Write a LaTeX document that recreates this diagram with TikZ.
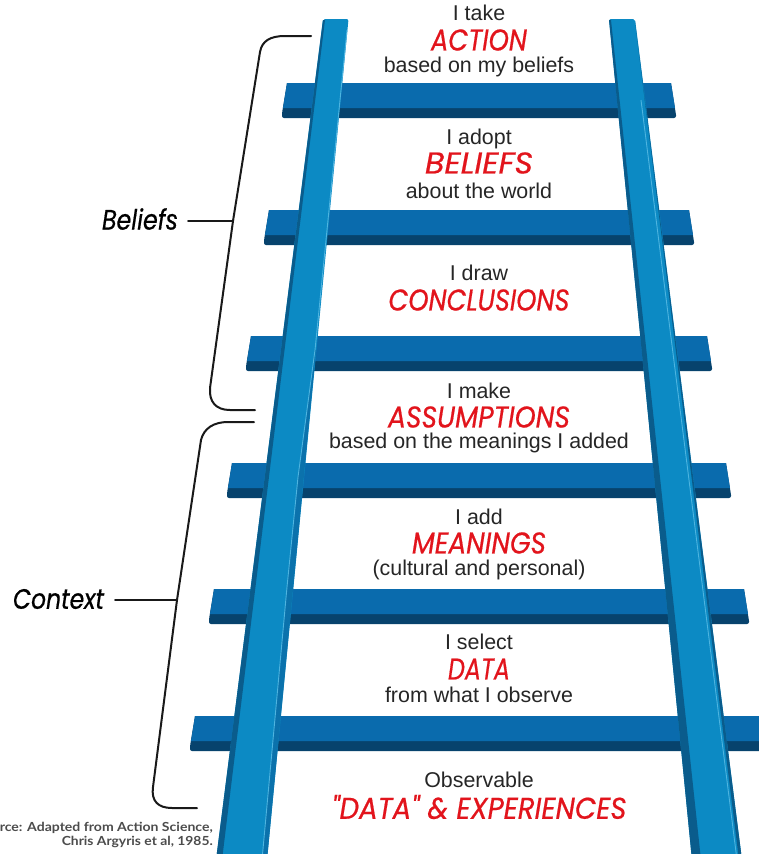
\documentclass[tikz,border=0pt]{standalone}
\usepackage{fontspec}
\setmainfont{Liberation Sans}
\newfontfamily\handfont{Poppins}[ItalicFeatures={FakeBold=0.6},UprightFeatures={FakeBold=0.6}]
\newfontfamily\sourcefont{Lato}
\definecolor{railmain}{HTML}{0C8AC4}
\definecolor{railshade}{HTML}{0B72AC}
\definecolor{raildark}{HTML}{0A5C8C}
\definecolor{raillight}{HTML}{4DB4E0}
\definecolor{rungfront}{HTML}{0A6BAD}
\definecolor{rungdark}{HTML}{07436D}
\definecolor{headred}{HTML}{E2141C}
\newcommand{\fitred}[2]{\resizebox{#1pt}{\height}{\fontsize{30}{30}\handfont\itshape\selectfont #2}}
\newcommand{\fithand}[2]{\resizebox{#1pt}{\height}{\fontsize{28}{28}\handfont\itshape\selectfont #2}}
\newcommand{\fitsource}[2]{\resizebox{#1pt}{\height}{\fontsize{12.5}{12.5}\sourcefont\bfseries\selectfont #2}}
\newcommand{\rungbar}[3]{%
  \fill[rungdark] ({#1+5},#3) -- ({#2-5},#3) -- (#2,{#3+32}) [rounded corners=2pt] -- (#2,{#3+35}) -- (#1,{#3+35}) -- (#1,{#3+30}) [sharp corners] -- cycle;
  \fill[rungfront] ({#1+5},#3) -- ({#2-5},#3) -- ({#2-1},{#3+25}) -- ({#1+1},{#3+25}) -- cycle;
}
\tikzset{
  x=1pt,y=-1pt,
  plainline/.style={font=\fontsize{21.4}{21.4}\selectfont,text=black!85,inner sep=0pt,text height=15.5pt,text depth=4.5pt,yshift=-1.5pt},
  redline/.style={text=headred,inner sep=0pt},
  handline/.style={text=black,inner ysep=0pt},
  bracket/.style={draw=black!90,line width=2pt,line cap=round,line join=round},
  sourceline/.style={text=black!70,inner sep=0pt,anchor=east}
}
\begin{document}
\begin{tikzpicture}
\useasboundingbox (0,0) rectangle (759,854);
\clip (0,0) rectangle (759,854);
\fill[white] (0,0) rectangle (759,854);
% rungs
\rungbar{282}{676}{83}
\rungbar{264}{694}{210}
\rungbar{246}{712}{336}
\rungbar{227}{731}{463}
\rungbar{209}{749}{589}
\rungbar{190}{768}{716}
% left rail
\fill[railmain,rounded corners=2pt] (323,19) -- (348.5,19) -- (267,860) -- (216,860) -- cycle;
\fill[railshade] (315,350) -- (298,477) -- (287,587) -- (262,860) -- (267,860) -- (316,350) -- cycle;
\fill[raildark] (323,20) -- (325,20) -- (222,860) -- (216,860) -- cycle;
\draw[raillight,line width=0.9pt] (347,30) -- (315,350) -- (298,477) -- (287,587) -- (262,860);
% right rail
\fill[railmain,rounded corners=2pt] (609,19) -- (635,19) -- (742,860) -- (692,860) -- cycle;
\fill[raildark] (609,20) -- (611,20) -- (701,860) -- (692,860) -- cycle;
\fill[raildark] (635,22) -- (742,860) -- (739,860) -- cycle;
\draw[raillight,line width=0.9pt] (641,100) -- (737,860);
% brackets
\coordinate (beliefsJoin) at (233,221);
\coordinate (contextJoin) at (177,600);
\draw[bracket] (311,36) -- (285,36) .. controls (270,36) and (262,41) .. (260,52)
  -- (beliefsJoin) -- (210,388) .. controls (209,402) and (216,410) .. (230,410) -- (255,410);
\draw[bracket] (254,422) -- (228,422) .. controls (214,422) and (204,428) .. (201,440)
  -- (contextJoin) -- (153,787) .. controls (151,801) and (158,808) .. (172,808) -- (197,808);
% labels
\node[handline,inner xsep=10pt] (beliefsLabel) at (140,219) {\fithand{76}{Beliefs}};
\node[handline,inner xsep=11pt] (contextLabel) at (58.5,599) {\fithand{91}{Context}};
\draw[bracket] (beliefsLabel.east |- beliefsJoin) -- (beliefsJoin);
\draw[bracket] (contextLabel.east |- contextJoin) -- (contextJoin);
% ladder text
\node[plainline] (t1a) at (479,13) {I take};
\node[redline] (t1b) at (479,40) {\fitred{96}{ACTION}};
\node[plainline] (t1c) at (479,65) {based on my beliefs};
\node[plainline] (t2a) at (479,137) {I adopt};
\node[redline] (t2b) at (479,163) {\fitred{108}{BELIEFS}};
\node[plainline] (t2c) at (479,191) {about the world};
\node[plainline] (t3a) at (479,273) {I draw};
\node[redline] (t3b) at (479,300) {\fitred{181}{CONCLUSIONS}};
\node[plainline] (t4a) at (479,391) {I make};
\node[redline] (t4b) at (479,417) {\fitred{182}{ASSUMPTIONS}};
\node[plainline] (t4c) at (479,441) {based on the meanings I added};
\node[plainline] (t5a) at (479,517) {I add};
\node[redline] (t5b) at (479,543) {\fitred{134}{MEANINGS}};
\node[plainline] (t5c) at (479,568) {(cultural and personal)};
\node[plainline] (t6a) at (479,642) {I select};
\node[redline] (t6b) at (479,669) {\fitred{62}{DATA}};
\node[plainline] (t6c) at (479,695) {from what I observe};
\node[plainline] (t7a) at (479,780) {Observable};
\node[redline] (t7b) at (479,807) {\fitred{295}{"DATA" \& EXPERIENCES}};
% source
\node[sourceline] (src1) at (213,828) {\fitsource{213}{rce: Adapted from Action Science,}};
\node[sourceline] (src2) at (213,842) {\fitsource{151}{Chris Argyris et al, 1985.}};
\end{tikzpicture}
\end{document}
